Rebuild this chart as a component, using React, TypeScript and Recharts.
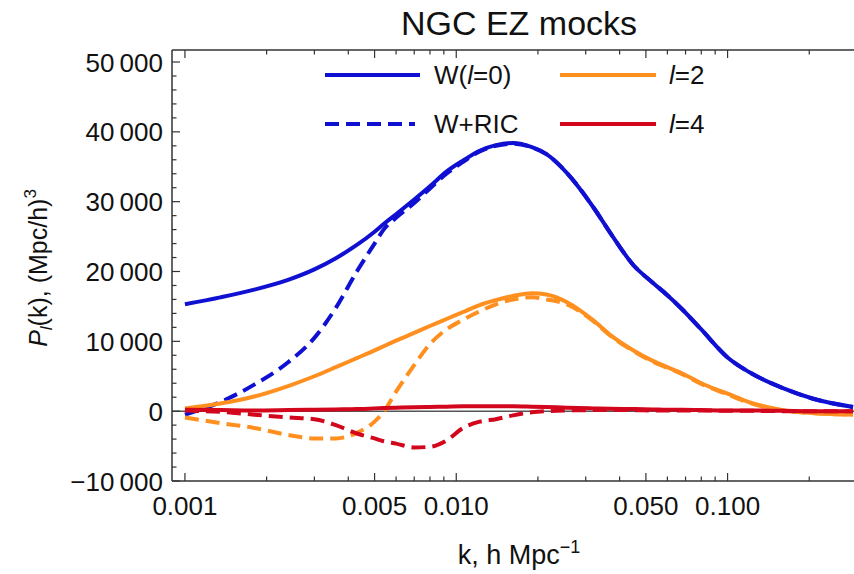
import { LineChart, Line, XAxis, YAxis, ReferenceLine, Legend } from "recharts";

// wavenumber grid, h/Mpc
const kValues = [
  0.001, 0.00135, 0.0018, 0.0024, 0.003, 0.0036, 0.0043, 0.005, 0.0054, 0.006, 0.007, 0.008,
  0.0092, 0.0106, 0.0122, 0.014, 0.0162, 0.019, 0.0215, 0.0256, 0.032, 0.037, 0.045, 0.053,
  0.06, 0.068, 0.08, 0.1, 0.12, 0.16, 0.21, 0.29,
];

// monopole, window only
const w0 = [
  15300, 16300, 17400, 18800, 20300, 21900, 23800, 25700, 26800, 28200, 30300, 32200,
  34300, 35900, 37300, 38100, 38400, 37800, 36800, 34100, 29200, 25500, 20900, 18400,
  16600, 14600, 11700, 7700, 5600, 3300, 1700, 600,
];

// monopole, window + radial integral constraint
const w0Ric = [
  -500, 1300, 3800, 7000, 10500, 14800, 20000, 24000, 26000, 27700, 29800, 31900,
  34000, 35700, 37200, 38000, 38300, 37800, 36800, 34100, 29200, 25500, 20900, 18400,
  16600, 14600, 11700, 7700, 5600, 3300, 1700, 600,
];

const l2 = [
  400, 1100, 2100, 3600, 5000, 6300, 7600, 8700, 9300, 10100, 11200, 12200,
  13200, 14200, 15200, 15900, 16500, 16900, 16700, 15600, 13000, 10900, 8700, 7200,
  6300, 5400, 4000, 2500, 1300, 150, -300, -500,
];

const l2Ric = [
  -900, -1700, -2400, -3400, -3900, -3900, -3100, -1500, -100, 2800, 6600, 9600,
  11700, 13100, 14300, 15300, 16000, 16300, 16000, 15300, 12900, 10800, 8600, 7100,
  6200, 5300, 3900, 2400, 1200, 100, -300, -500,
];

const l4 = [
  200, 150, 100, 150, 200, 250, 300, 400, 450, 500, 550, 600,
  650, 700, 700, 700, 700, 650, 600, 500, 400, 350, 300, 250,
  200, 200, 150, 100, 100, 50, 0, 0,
];

const l4Ric = [
  100, -100, -500, -900, -1150, -2000, -3200, -3900, -4300, -4650, -5200, -5100,
  -4200, -2400, -1500, -1150, -600, -150, 0, 100, 150, 150, 150, 100,
  100, 100, 100, 50, 50, 0, 0, 0,
];

const xTicks = [
  0.001, 0.002, 0.003, 0.004, 0.005, 0.006, 0.007, 0.008, 0.009,
  0.01, 0.02, 0.03, 0.04, 0.05, 0.06, 0.07, 0.08, 0.09,
  0.1, 0.2,
];
const xLabels = [0.001, 0.005, 0.01, 0.05, 0.1];

const yTicks = [
  -10000, -8000, -6000, -4000, -2000, 0, 2000, 4000, 6000, 8000, 10000, 12000, 14000,
  16000, 18000, 20000, 22000, 24000, 26000, 28000, 30000, 32000, 34000, 36000, 38000,
  40000, 42000, 44000, 46000, 48000, 50000,
];
const yLabels = [-10000, 0, 10000, 20000, 30000, 40000, 50000];

const rows = kValues.map((k, i) => ({
  k,
  w0: w0[i],
  w0Ric: w0Ric[i],
  l2: l2[i],
  l2Ric: l2Ric[i],
  l4: l4[i],
  l4Ric: l4Ric[i],
}));

const BLUE = "#1010d2";
const ORANGE = "#ff9020";
const RED = "#d2061c";
const DASH = "14 7";
const FONT = "'Liberation Sans', Arial, Helvetica, sans-serif";
const TICK = "#333";

const fmtY = (v: number) => {
  if (v === 0) return "0";
  const s = Math.abs(v).toString();
  const body = s.slice(0, s.length - 3) + "\u2009" + s.slice(-3);
  return v < 0 ? "\u2212" + body : body;
};

const fmtX = (v: number) => v.toFixed(3);

function LeftTick(props: any) {
  const { x, y, payload } = props;
  const major = yLabels.includes(payload.value);
  const ax = x + 9;
  return (
    <g>
      <line x1={ax} x2={ax + (major ? 8 : 4.5)} y1={y} y2={y} stroke={TICK} strokeWidth={1.2} />
      {major && (
        <text x={x} y={y} dy={9.5} textAnchor="end" fontSize={26} fill="#111" fontFamily={FONT}>
          {fmtY(payload.value)}
        </text>
      )}
    </g>
  );
}

function BottomTick(props: any) {
  const { x, y, payload } = props;
  const major = xLabels.includes(payload.value);
  const ay = y - 14;
  return (
    <g>
      <line x1={x} x2={x} y1={ay} y2={ay - (major ? 8 : 4.5)} stroke={TICK} strokeWidth={1.2} />
      {major && (
        <text x={x} y={y} dy={20} textAnchor="middle" fontSize={26} fill="#111" fontFamily={FONT}>
          {fmtX(payload.value)}
        </text>
      )}
    </g>
  );
}

function TopTick(props: any) {
  const { x, y, payload } = props;
  const major = xLabels.includes(payload.value);
  return <line x1={x} x2={x} y1={y} y2={y + (major ? 8 : 4.5)} stroke={TICK} strokeWidth={1.2} />;
}

function LegendBox() {
  const text = { fontSize: 26, fill: "#111", fontFamily: FONT };
  return (
    <svg width={420} height={100} style={{ overflow: "visible" }}>
      <line x1={5} x2={100} y1={25} y2={25} stroke={BLUE} strokeWidth={4} />
      <text x={114} y={34} {...text}>
        W(<tspan fontStyle="italic">l</tspan>=0)
      </text>
      <line x1={5} x2={95} y1={74} y2={74} stroke={BLUE} strokeWidth={4} strokeDasharray={DASH} />
      <text x={114} y={83} {...text}>W+RIC</text>
      <line x1={240} x2={336} y1={25} y2={25} stroke={ORANGE} strokeWidth={4} />
      <text x={349} y={34} {...text}>
        <tspan fontStyle="italic">l</tspan>=2
      </text>
      <line x1={240} x2={336} y1={74} y2={74} stroke={RED} strokeWidth={4} />
      <text x={349} y={83} {...text}>
        <tspan fontStyle="italic">l</tspan>=4
      </text>
    </svg>
  );
}

export default function App() {
  const xDomain: [number, number] = [0.000896, 0.2924];
  return (
    <div
      style={{
        position: "absolute",
        left: 0,
        top: 0,
        width: 854,
        height: 574,
        background: "#fff",
        fontFamily: FONT,
      }}
    >
      <LineChart width={854} height={574} data={rows} margin={{ top: 0, right: 0, bottom: 0, left: 0 }}>
        <XAxis
          xAxisId="bottom"
          dataKey="k"
          type="number"
          scale="log"
          domain={xDomain}
          allowDataOverflow
          ticks={xTicks}
          interval={0}
          tick={<BottomTick />}
          tickLine={false}
          tickSize={0}
          tickMargin={14}
          height={93}
          axisLine={{ stroke: TICK, strokeWidth: 1.5 }}
        />
        <XAxis
          xAxisId="top"
          orientation="top"
          dataKey="k"
          type="number"
          scale="log"
          domain={xDomain}
          allowDataOverflow
          ticks={xTicks}
          interval={0}
          tick={<TopTick />}
          tickLine={false}
          tickSize={0}
          tickMargin={0}
          height={50}
          axisLine={{ stroke: TICK, strokeWidth: 1.5 }}
        />
        <YAxis
          type="number"
          domain={[-10000, 51720]}
          allowDataOverflow
          ticks={yTicks}
          interval={0}
          width={172}
          tick={<LeftTick />}
          tickLine={false}
          tickSize={0}
          tickMargin={9}
          axisLine={{ stroke: TICK, strokeWidth: 1.5 }}
        />
        <ReferenceLine xAxisId="bottom" y={0} stroke="#555" strokeWidth={1.5} />
        <Line xAxisId="bottom" type="monotone" dataKey="w0" stroke={BLUE} strokeWidth={4} dot={false} isAnimationActive={false} />
        <Line xAxisId="bottom" type="monotone" dataKey="w0Ric" stroke={BLUE} strokeWidth={4} strokeDasharray={DASH} dot={false} isAnimationActive={false} />
        <Line xAxisId="bottom" type="monotone" dataKey="l2" stroke={ORANGE} strokeWidth={4} dot={false} isAnimationActive={false} />
        <Line xAxisId="bottom" type="monotone" dataKey="l2Ric" stroke={ORANGE} strokeWidth={4} strokeDasharray={DASH} dot={false} isAnimationActive={false} />
        <Line xAxisId="bottom" type="monotone" dataKey="l4" stroke={RED} strokeWidth={4} dot={false} isAnimationActive={false} />
        <Line xAxisId="bottom" type="monotone" dataKey="l4Ric" stroke={RED} strokeWidth={4} strokeDasharray={DASH} dot={false} isAnimationActive={false} />
        <Legend
          layout="horizontal"
          verticalAlign="middle"
          align="center"
          content={() => <LegendBox />}
          wrapperStyle={{ left: 320, top: 50, width: 420, height: 100 }}
        />
      </LineChart>
      <svg
        width={854}
        height={574}
        style={{ position: "absolute", left: 0, top: 0, pointerEvents: "none" }}
      >
        <text x={519} y={35} textAnchor="middle" fontSize={34} fill="#111" fontFamily={FONT}>
          NGC EZ mocks
        </text>
        <text x={519} y={564} textAnchor="middle" fontSize={27} fill="#111" fontFamily={FONT}>
          k, h Mpc<tspan fontSize={18} dy={-11}>{"\u22121"}</tspan>
        </text>
        <text transform="translate(47,268) rotate(-90)" textAnchor="middle" fontSize={25} fill="#111" fontFamily={FONT}>
          <tspan fontStyle="italic">P</tspan>
          <tspan fontStyle="italic" fontSize={17} dy={5}>l</tspan>
          <tspan dy={-5}>(k), (Mpc/h)</tspan>
          <tspan fontSize={17} dy={-11}>3</tspan>
        </text>
      </svg>
    </div>
  );
}
